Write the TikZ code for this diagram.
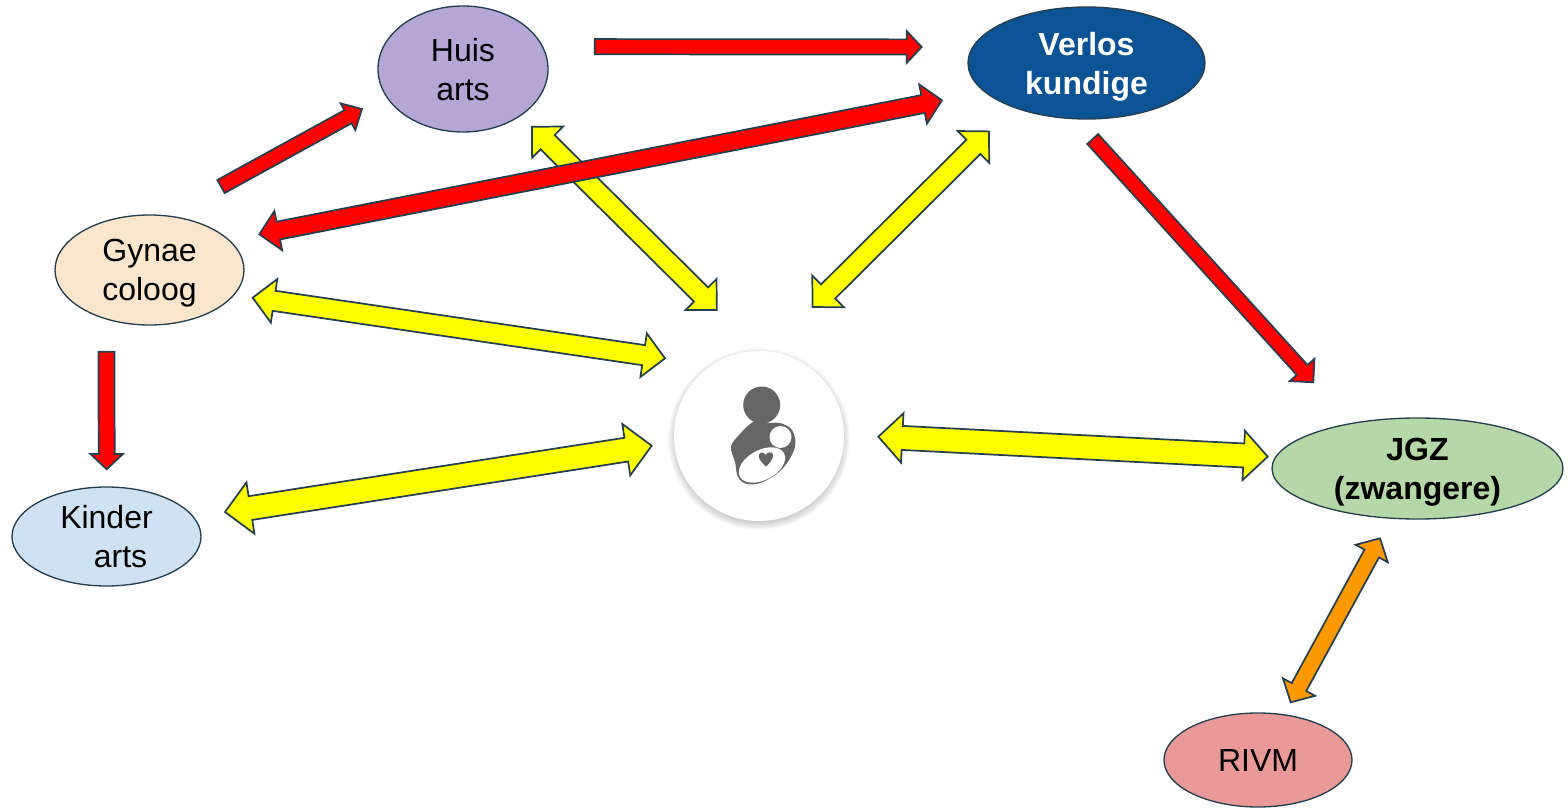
\documentclass[tikz,border=0pt]{standalone}
\usepackage{fontspec}
\setmainfont{Liberation Sans}
\usepackage{tikz}
\usetikzlibrary{shapes}
\usetikzlibrary{calc}

\definecolor{rand}{HTML}{263F4F}
\definecolor{huiskleur}{HTML}{B4A7D6}
\definecolor{verloskleur}{HTML}{0B5394}
\definecolor{gynaekleur}{HTML}{FCE5CD}
\definecolor{kinderkleur}{HTML}{CFE2F3}
\definecolor{jgzkleur}{HTML}{B6D7A8}
\definecolor{rivmkleur}{HTML}{EA9999}
\definecolor{rood}{HTML}{FF0000}
\definecolor{geel}{HTML}{FFFF00}
\definecolor{oranje}{HTML}{FF9900}
\definecolor{icoon}{HTML}{666666}

\tikzset{
  zorg/.style={ellipse, draw=rand, line width=1pt, inner sep=0pt, align=center, text depth=-2pt,
               font=\fontsize{24}{29.2}\selectfont},
  blok/.style={draw=rand, line width=1.3pt, miter limit=6}
}

% fill, from, to, half shaft, half head, head length
\newcommand{\enkelpijl}[6]{
  \coordinate (p) at ($(#3)!#6!(#2)$);
  \draw[blok, fill=#1] ($(#2)!#4!90:(#3)$) -- ($(p)!#4!90:(#3)$) -- ($(p)!#5!90:(#3)$)
    -- (#3) -- ($(p)!#5!-90:(#3)$) -- ($(p)!#4!-90:(#3)$) -- ($(#2)!#4!-90:(#3)$) -- cycle;
}
\newcommand{\dubbelpijl}[6]{
  \coordinate (p) at ($(#3)!#6!(#2)$);
  \coordinate (q) at ($(#2)!#6!(#3)$);
  \draw[blok, fill=#1] (#2) -- ($(q)!#5!-90:(#3)$) -- ($(q)!#4!-90:(#3)$) -- ($(p)!#4!-90:(#3)$)
    -- ($(p)!#5!-90:(#3)$) -- (#3) -- ($(p)!#5!90:(#3)$) -- ($(p)!#4!90:(#3)$)
    -- ($(q)!#4!90:(#3)$) -- ($(q)!#5!90:(#3)$) -- cycle;
}

\begin{document}
\begin{tikzpicture}[x=0.75pt, y=-0.75pt]
  \useasboundingbox (0, 0) rectangle (1568, 809);

  \node[zorg, fill=huiskleur, minimum width=127.5pt, minimum height=94.5pt] (huis) at (463, 69) {Huis\\arts};
  \node[zorg, fill=verloskleur, text=white, text depth=-3.5pt, minimum width=177.75pt, minimum height=84pt, font=\fontsize{24}{29.2}\selectfont\bfseries] (verlos) at (1086.5, 63) {Verlos\\kundige};
  \node[zorg, fill=gynaekleur, text depth=-5pt, minimum width=141.75pt, minimum height=82.5pt] (gynae) at (149.5, 270) {Gynae\\coloog};
  \node[zorg, fill=kinderkleur, text depth=-3.5pt, minimum width=141.75pt, minimum height=74.25pt] (kinder) at (106.5, 536.5) {Kinder\\\hspace*{21pt}arts};
  \node[zorg, fill=jgzkleur, text depth=-3.5pt, minimum width=218.25pt, minimum height=75.75pt, font=\fontsize{24}{29.2}\selectfont\bfseries] (jgz) at (1417.5, 468.5) {JGZ\\(zwangere)};
  \node[zorg, fill=rivmkleur, minimum width=141pt, minimum height=70.5pt] (rivm) at (1258, 760) {RIVM};

  % schaduw
  \foreach \r in {78, 79, ..., 91}
    \fill[black, opacity=0.024] (759, 439) circle (\r);
  \node[circle, fill=white, inner sep=0pt, minimum size=127.5pt] (moeder) at (759, 436) {};

  % icoon
  \fill[icoon] (761.7, 405) circle (18.5);
  \fill[icoon] plot[smooth cycle, tension=0.6] coordinates {(755, 421) (739, 435) (731, 447) (735, 462) (738, 477)
    (747, 484) (763, 482) (783, 468) (795, 447) (792, 430) (780, 423) (770, 423)};
  \fill[white, rotate around={28:(762, 465)}] (762, 465) ellipse (25 and 15);
  \fill[white] (780.5, 437) circle (11);
  \fill[icoon] (766, 466.5) .. controls (761, 462) and (758, 458) .. (759, 455)
    .. controls (760, 451.5) and (764, 452) .. (765.5, 455) .. controls (767, 452) and (772, 451) .. (773, 454.5)
    .. controls (774, 458) and (770, 463) .. (766, 466.5) -- cycle;

  % pijlen
  \coordinate (gh1) at (221, 186.5);
  \coordinate (gh2) at (362, 109);
  \coordinate (hv1) at (594.7, 46.7);
  \coordinate (hv2) at (921.7, 47);
  \coordinate (vj1) at (1092.7, 139);
  \coordinate (vj2) at (1313.3, 382.3);
  \coordinate (gk1) at (106.5, 351.7);
  \coordinate (gk2) at (106.7, 469.3);
  \coordinate (hm1) at (532, 126.7);
  \coordinate (hm2) at (716.7, 310);
  \coordinate (vm1) at (989, 131.4);
  \coordinate (vm2) at (812.5, 307);
  \coordinate (vg1) at (942, 100.3);
  \coordinate (vg2) at (259.3, 234.3);
  \coordinate (gm1) at (252.7, 297.7);
  \coordinate (gm2) at (665, 358.3);
  \coordinate (km1) at (225, 512);
  \coordinate (km2) at (651.7, 445.7);
  \coordinate (mj1) at (878.3, 436.7);
  \coordinate (mj2) at (1267.7, 456.7);
  \coordinate (jr1) at (1380, 538.3);
  \coordinate (jr2) at (1290.7, 702.3);

  \enkelpijl{rood}{gh1}{gh2}{5.6pt}{11.4pt}{12pt}
  \enkelpijl{rood}{hv1}{hv2}{5.7pt}{12pt}{11.3pt}
  \enkelpijl{rood}{vj1}{vj2}{5.5pt}{12.5pt}{12.5pt}
  \enkelpijl{rood}{gk1}{gk2}{6pt}{12.2pt}{11.5pt}
  \dubbelpijl{geel}{hm1}{hm2}{7.5pt}{16.5pt}{16.5pt}
  \dubbelpijl{geel}{vm1}{vm2}{7.5pt}{16.8pt}{16.5pt}
  \dubbelpijl{rood}{vg1}{vg2}{6.8pt}{15pt}{14.5pt}
  \dubbelpijl{geel}{gm1}{gm2}{7.6pt}{16.5pt}{16.2pt}
  \dubbelpijl{geel}{km1}{km2}{9pt}{19.5pt}{19.3pt}
  \dubbelpijl{geel}{mj1}{mj2}{9pt}{18.5pt}{18pt}
  \dubbelpijl{oranje}{jr1}{jr2}{6.2pt}{13.7pt}{13pt}
\end{tikzpicture}
\end{document}
